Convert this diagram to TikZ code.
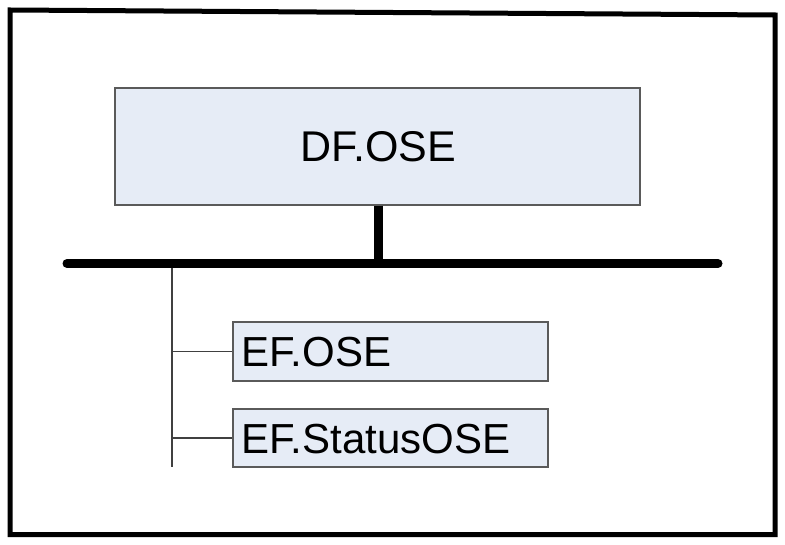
\documentclass[tikz,border=0pt]{standalone}
\usepackage{fontspec}
\setmainfont{Liberation Sans}
\definecolor{boxfill}{RGB}{230,236,246}
\definecolor{boxline}{RGB}{90,90,90}
\tikzset{
  box/.style={draw=boxline, line width=1.3pt, fill=boxfill, inner sep=0pt},
  lbl/.style={font=\fontsize{42}{50}\selectfont, text=black},
  biglbl/.style={font=\fontsize{43}{52}\selectfont, text=black},
  thick bar/.style={line width=9pt, black},
  thin link/.style={line width=1.2pt, black!75},
}
\begin{document}
\begin{tikzpicture}[x=1pt,y=-1pt]
\useasboundingbox (0,0) rectangle (785,545);
\fill[white] (0,0) rectangle (785,545);
% outer frame
\draw[line width=5pt, line join=miter] (10,10) -- (775,15) -- (775,534.5) -- (10,534.5) -- cycle;
% top box
\node[box, minimum width=525pt, minimum height=117pt] (df) at (377.5,146.5) {};
\node[biglbl] (dft) at ([xshift=1pt]df.center) {DF.OSE};
% bus
\coordinate (busL) at (67,263.5);
\coordinate (busR) at (718,263.5);
\draw[thick bar, line cap=round] (busL) -- (busR);
\coordinate (busT) at (378,263.5);
\draw[thick bar] (df.south -| busT) -- (busT);
% child boxes
\node[box, minimum width=315pt, minimum height=59pt] (ef1) at (390.5,351.5) {};
\node[lbl, anchor=west] (ef1t) at ([xshift=6pt,yshift=-1pt]ef1.west) {EF.OSE};
\node[box, minimum width=315pt, minimum height=58pt] (ef2) at (390.5,438) {};
\node[lbl, anchor=west] (ef2t) at ([xshift=6pt,yshift=-1pt]ef2.west) {EF.StatusOSE};
% tree line
\coordinate (vtop) at (172,268);
\coordinate (vbot) at (172,467);
\draw[thin link] (vtop) -- (vbot);
\draw[thin link] (vtop |- ef1.west) -- (ef1.west);
\draw[thin link] (vtop |- ef2.west) -- (ef2.west);
\end{tikzpicture}
\end{document}
